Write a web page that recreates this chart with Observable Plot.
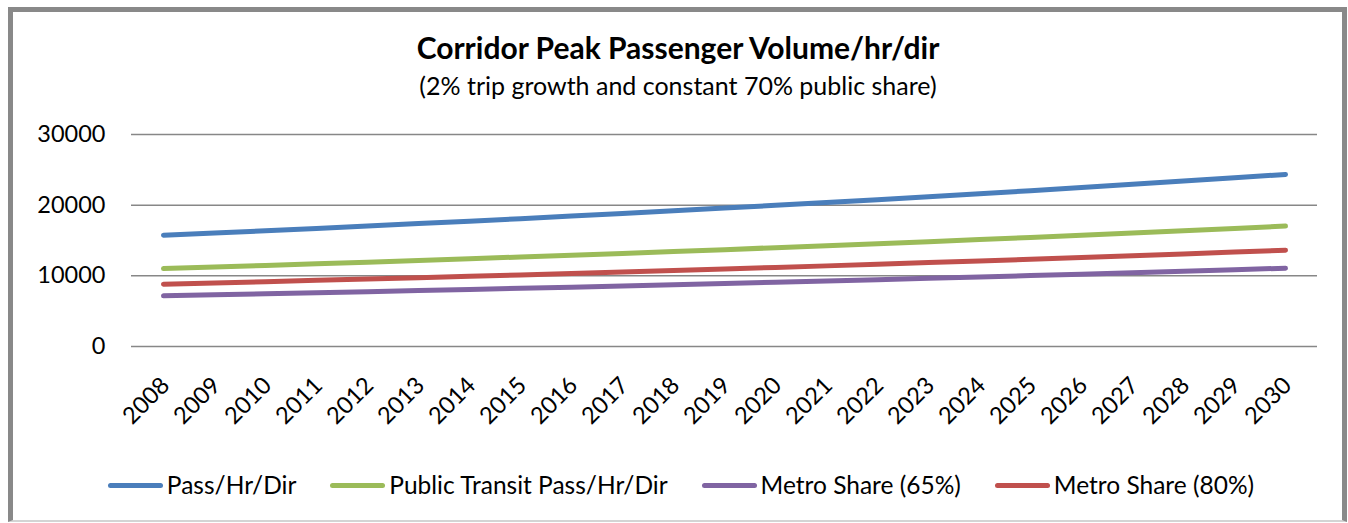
<!DOCTYPE html>
<html><head><meta charset="utf-8">
<script src="https://cdn.jsdelivr.net/npm/d3@7"></script>
<script src="https://cdn.jsdelivr.net/npm/@observablehq/plot@0.6"></script>
<style>
html,body{margin:0;padding:0;background:#fff;}
body{width:1348px;height:523px;position:relative;overflow:hidden;font-family:Lato,"Open Sans",sans-serif;color:#000;}
#frame{position:absolute;left:8px;top:7px;width:1329px;height:508px;border-top:5px solid #898989;border-left:5px solid #898989;border-right:5px solid #898989;border-bottom:2px solid #d4d4d4;}
#title{position:absolute;left:0;width:1356px;top:30px;text-align:center;font-weight:bold;font-size:30px;line-height:34px;}
#subtitle{position:absolute;left:0;width:1356px;top:70px;text-align:center;font-size:25px;line-height:30px;}
#chart{position:absolute;left:0;top:110px;}
#legend{position:absolute;left:0;width:1362px;top:470px;display:flex;justify-content:center;gap:34px;font-size:24.5px;line-height:30px;}
.item{display:flex;align-items:center;}
.sw{width:55px;height:5px;border-radius:3px;margin-right:4px;}
</style>
</head><body>
<div id="frame"></div>
<div id="title">Corridor Peak Passenger Volume/hr/dir</div>
<div id="subtitle">(2% trip growth and constant 70% public share)</div>
<div id="chart"></div>
<div id="legend"></div>
<script>
const years = [2008,2009,2010,2011,2012,2013,2014,2015,2016,2017,2018,2019,2020,2021,2022,2023,2024,2025,2026,2027,2028,2029,2030];
const passHrDir = [15750,16065,16386,16714,17048,17389,17737,18092,18454,18823,19199,19583,19975,20374,20782,21197,21621,22054,22495,22945,23404,23872,24349];
const publicTransit = [11025,11246,11470,11700,11934,12172,12416,12664,12918,13176,13439,13708,13983,14262,14547,14838,15135,15438,15747,16062,16383,16710,17044];
const metro65 = [7166,7310,7456,7605,7757,7912,8070,8232,8397,8564,8736,8910,9089,9270,9456,9645,9838,10035,10235,10440,10649,10862,11079];
const metro80 = [8820,8996,9176,9360,9547,9738,9933,10132,10334,10541,10751,10966,11186,11409,11638,11870,12108,12350,12597,12849,13106,13368,13635];
const seriesNames = ["Pass/Hr/Dir","Public Transit Pass/Hr/Dir","Metro Share (65%)","Metro Share (80%)"];
const seriesColors = ["#4a7ebb","#9bbb59","#8064a2","#c0504d"];
const yTicks = [0,10000,20000,30000];

const seriesValues = [passHrDir, publicTransit, metro65, metro80];
const rows = [];
seriesNames.forEach((name,i)=>{
  years.forEach((yr,j)=>rows.push({series:name, year:yr, value:seriesValues[i][j]}));
});

const chart = Plot.plot({
  width:1348, height:320,
  marginLeft:131, marginRight:31, marginTop:24, marginBottom:84,
  style:{fontFamily:"Lato, 'Open Sans', sans-serif", fontSize:"23.5px", color:"#000", background:"transparent"},
  x:{type:"point", domain:years, padding:0.5},
  y:{domain:[0,30000]},
  color:{domain:seriesNames, range:seriesColors},
  marks:[
    Plot.ruleY(yTicks,{stroke:"#878787", strokeWidth:1.5}),
    Plot.axisY(yTicks,{tickSize:0, tickPadding:26, tickFormat:d=>String(d), fontSize:23.5, label:null}),
    Plot.axisX(years,{tickSize:0, tickRotate:-45, tickPadding:35, dx:2, fontSize:23.5, tickFormat:d=>String(d), label:null}),
    Plot.line(rows,{x:"year", y:"value", z:"series", stroke:"series", strokeWidth:5, strokeLinecap:"round", strokeLinejoin:"round"})
  ]
});
document.getElementById("chart").appendChild(chart);

const legend = document.getElementById("legend");
seriesNames.forEach((n,i)=>{
  const it = document.createElement("div"); it.className="item";
  const sw = document.createElement("div"); sw.className="sw"; sw.style.background=seriesColors[i];
  const tx = document.createElement("span"); tx.textContent=n;
  it.appendChild(sw); it.appendChild(tx); legend.appendChild(it);
});
</script>
</body></html>
